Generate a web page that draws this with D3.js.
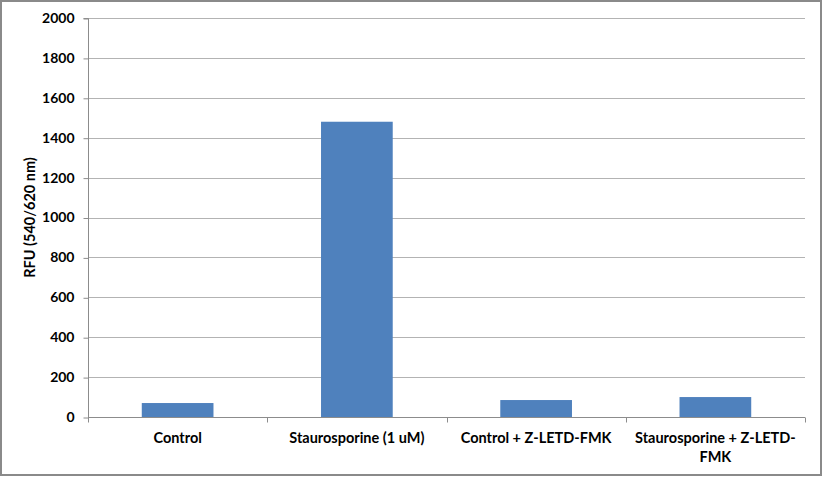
<!DOCTYPE html>
<html>
<head>
<meta charset="utf-8">
<script src="https://cdn.jsdelivr.net/npm/d3@7"></script>
<style>
  body { margin: 0; background: #fff; }
  svg { display: block; }
  svg text { font-family: Lato, "Open Sans", sans-serif; font-weight: bold; fill: #000; }
  .grid line { stroke: #b3b3b3; }
  .axis path, .axis line { stroke: #8c8c8c; }
</style>
</head>
<body>
<svg width="823" height="477"></svg>
<script>
// values
const categories = ['Control', 'Staurosporine (1 uM)', 'Control + Z-LETD-FMK', 'Staurosporine + Z-LETD-FMK'];
const rfu = [70, 1480, 85, 100];
const yTickValues = [0, 200, 400, 600, 800, 1000, 1200, 1400, 1600, 1800, 2000];
const yLabel = 'RFU (540/620 nm)';

const svg = d3.select('svg');
const width = +svg.attr('width');
const height = +svg.attr('height');
const margin = { left: 88, right: 18, top: 18, bottom: 60 };
const innerWidth = width - margin.left - margin.right;
const innerHeight = height - margin.top - margin.bottom;

// outer frame
svg.append('rect')
    .attr('x', 1).attr('y', 1)
    .attr('width', width - 3).attr('height', height - 3)
    .attr('fill', '#fff')
    .attr('stroke', '#8a8a8a')
    .attr('stroke-width', 2);

const g = svg.append('g')
    .attr('transform', `translate(${margin.left},${margin.top})`);

const xScale = d3.scaleBand()
    .domain(categories)
    .range([0, innerWidth])
    .paddingInner(0.6)
    .paddingOuter(0.3);

const yScale = d3.scaleLinear()
    .domain([0, 2000])
    .range([innerHeight, 0]);

// gridlines
g.append('g')
    .attr('class', 'grid')
    .selectAll('line')
    .data(yTickValues.filter(d => d > 0))
    .join('line')
    .attr('x1', 0)
    .attr('x2', innerWidth)
    .attr('y1', d => Math.round(yScale(d)) + 0.5)
    .attr('y2', d => Math.round(yScale(d)) + 0.5);

// bars
g.selectAll('.bar')
    .data(categories)
    .join('rect')
    .attr('class', 'bar')
    .attr('x', d => xScale(d))
    .attr('width', xScale.bandwidth())
    .attr('y', (d, i) => yScale(rfu[i]))
    .attr('height', (d, i) => innerHeight - yScale(rfu[i]))
    .attr('fill', '#4f81bd');

// y axis
const yAxis = d3.axisLeft(yScale)
    .tickValues(yTickValues)
    .tickSize(5)
    .tickPadding(9)
    .tickFormat(d3.format('d'));
const yAxisG = g.append('g')
    .attr('class', 'axis')
    .attr('transform', 'translate(0.5,0)')
    .call(yAxis);
yAxisG.select('.domain').attr('d', `M-5,0.5H0V${innerHeight}`);
yAxisG.selectAll('.tick line').attr('transform', 'translate(0,0.5)');
yAxisG.selectAll('text').style('font-size', '14px');

// x axis: ticks sit between categories, like Excel
const xAxisG = g.append('g')
    .attr('class', 'axis')
    .attr('transform', `translate(0,${Math.round(innerHeight) + 0.5})`);
xAxisG.append('line')
    .attr('x1', 0).attr('x2', innerWidth)
    .attr('y1', 0).attr('y2', 0);
const bounds = categories.map(c => xScale(c) - xScale.step() * xScale.paddingInner() / 2)
    .concat([innerWidth]);
bounds[0] = 0;
xAxisG.selectAll('.xtick')
    .data(bounds)
    .join('line')
    .attr('class', 'xtick')
    .attr('x1', d => Math.round(d) + 0.5)
    .attr('x2', d => Math.round(d) + 0.5)
    .attr('y1', 0).attr('y2', 5);

// category labels, wrapped to the band
const labelWidth = xScale.step() - 10;
categories.forEach(c => {
    const t = xAxisG.append('text')
        .attr('x', xScale(c) + xScale.bandwidth() / 2)
        .attr('y', 25)
        .attr('text-anchor', 'middle')
        .style('font-size', '14.5px');
    const words = c.split(/(?<=-)|\s+/);
    let line = [];
    let tspan = t.append('tspan').attr('x', t.attr('x')).attr('dy', 0);
    words.forEach(w => {
        const joiner = line.length && !line[line.length - 1].endsWith('-') ? ' ' : '';
        const trial = line.length ? line.join('') + joiner + w : w;
        tspan.text(trial);
        if (tspan.node().getComputedTextLength() > labelWidth && line.length) {
            tspan.text(line.join(''));
            line = [w];
            tspan = t.append('tspan').attr('x', t.attr('x')).attr('dy', '1.35em').text(w);
        } else {
            line = [trial];
        }
    });
});

// y label
svg.append('text')
    .attr('transform', `translate(35,${margin.top + innerHeight / 2}) rotate(-90)`)
    .attr('text-anchor', 'middle')
    .style('font-size', '14.5px')
    .text(yLabel);
</script>
</body>
</html>
